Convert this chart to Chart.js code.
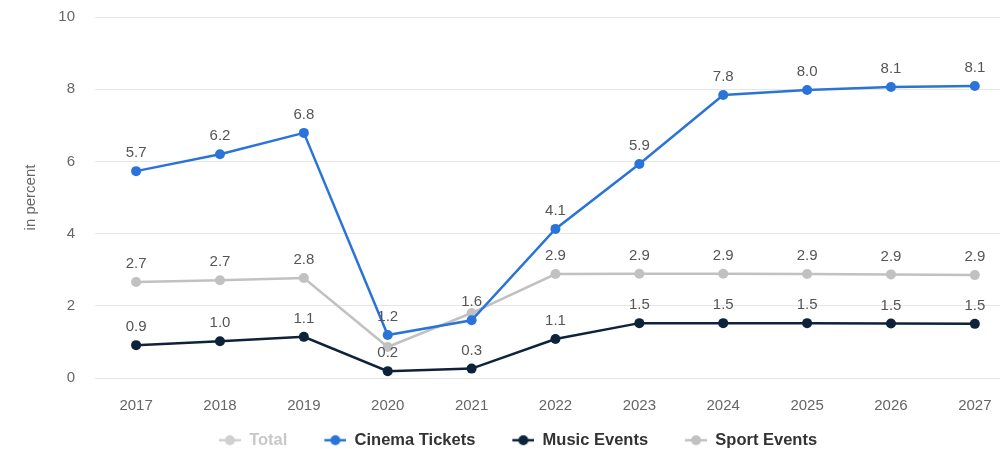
<!DOCTYPE html>
<html>
<head>
<meta charset="utf-8">
<script src="https://cdn.jsdelivr.net/npm/chart.js@4.4.1/dist/chart.umd.min.js"></script>
<style>
  html, body { margin: 0; padding: 0; background: #fff; }
  #wrap { width: 1000px; height: 449px; position: relative; }
</style>
</head>
<body>
<div id="wrap"><canvas id="chart"></canvas></div>
<script>
// Années et valeurs (en %)
const years = [2017, 2018, 2019, 2020, 2021, 2022, 2023, 2024, 2025, 2026, 2027];
const cinemaTickets = [5.73, 6.2, 6.79, 1.19, 1.6, 4.13, 5.93, 7.84, 7.98, 8.06, 8.09];
const musicEvents = [0.91, 1.02, 1.14, 0.19, 0.26, 1.08, 1.52, 1.52, 1.52, 1.51, 1.5];
const sportEvents = [2.66, 2.71, 2.77, 0.86, 1.8, 2.88, 2.89, 2.89, 2.88, 2.87, 2.85];
const totalValues = []; // série masquée (grisée dans la légende)
const yTicks = [0, 2, 4, 6, 8, 10];
// étiquettes masquées (chevauchement) : indices par série
const hiddenLabels = { 'Sport Events': [3, 4] };

const BLUE = '#2a74d9';
const NAVY = '#0e2239';
const GREY = '#c1c1c1';
const FONT = '"Liberation Sans", Arial, sans-serif';
const LEGEND_H = 18;

const toPoints = (vals) => vals.map((v, i) => ({ x: years[i], y: v }));

// marqueur de légende : trait + rond, calé à droite (la marge gauche sert d'espacement)
const MARK_W = 58;
function legendMarker(color) {
  const c = document.createElement('canvas');
  c.width = MARK_W; c.height = 12;
  const g = c.getContext('2d');
  g.strokeStyle = color;
  g.lineWidth = 2.5;
  g.beginPath(); g.moveTo(MARK_W - 22, 6); g.lineTo(MARK_W, 6); g.stroke();
  g.fillStyle = color;
  g.beginPath(); g.arc(MARK_W - 11, 6, 5, 0, Math.PI * 2); g.fill();
  return c;
}

// hauteur de légende fixe (colle la légende au bas du canvas)
const compactLegend = {
  id: 'compactLegend',
  beforeUpdate(chart) {
    const lg = chart.legend;
    if (!lg || lg._compact) return;
    const fit = lg.fit.bind(lg);
    lg.fit = function () { fit(); this.height = LEGEND_H; };
    lg._compact = true;
  },
};

// étiquettes de valeur au-dessus des points
const valueLabels = {
  id: 'valueLabels',
  afterDatasetsDraw(chart) {
    const ctx = chart.ctx;
    ctx.save();
    ctx.font = '15px ' + FONT;
    ctx.fillStyle = '#555';
    ctx.textAlign = 'center';
    ctx.textBaseline = 'middle';
    chart.data.datasets.forEach((ds, di) => {
      if (!chart.isDatasetVisible(di)) return;
      const meta = chart.getDatasetMeta(di);
      const skip = hiddenLabels[ds.label] || [];
      meta.data.forEach((pt, i) => {
        if (skip.includes(i)) return;
        ctx.fillText(ds.data[i].y.toFixed(1), pt.x, pt.y - 18);
      });
    });
    ctx.restore();
  },
};

const lineStyle = (color) => ({
  borderColor: color,
  backgroundColor: color,
  borderWidth: 2.5,
  pointRadius: 5,
  pointHoverRadius: 5,
  pointBorderWidth: 0,
  tension: 0,
});

new Chart(document.getElementById('chart'), {
  type: 'line',
  data: {
    datasets: [
      { label: 'Total', data: toPoints(totalValues), hidden: true, ...lineStyle(GREY) },
      { label: 'Cinema Tickets', data: toPoints(cinemaTickets), ...lineStyle(BLUE) },
      { label: 'Music Events', data: toPoints(musicEvents), ...lineStyle(NAVY) },
      { label: 'Sport Events', data: toPoints(sportEvents), ...lineStyle(GREY) },
    ],
  },
  plugins: [compactLegend, valueLabels],
  options: {
    responsive: true,
    maintainAspectRatio: false,
    animation: false,
    layout: { autoPadding: false, padding: { top: 17, right: 0, left: 0, bottom: 0 } },
    plugins: {
      tooltip: { enabled: false },
      legend: {
        position: 'bottom',
        labels: {
          usePointStyle: true,
          pointStyleWidth: MARK_W,
          padding: 1,
          font: { family: FONT, size: 16.5, weight: 'bold' },
          generateLabels(chart) {
            return chart.data.datasets.map((ds, i) => {
              const hidden = !chart.isDatasetVisible(i);
              return {
                text: ds.label,
                fontColor: hidden ? '#c8c8c8' : '#333',
                fillStyle: ds.borderColor,
                strokeStyle: ds.borderColor,
                pointStyle: legendMarker(hidden ? '#d0d0d0' : ds.borderColor),
                hidden: false,
                datasetIndex: i,
              };
            });
          },
        },
      },
    },
    scales: {
      x: {
        type: 'linear',
        min: 2016.51,
        max: 2027.3,
        afterFit: (scale) => { scale.height = 53; scale.paddingLeft = 0; scale.paddingRight = 0; },
        grid: { display: false },
        border: { display: false },
        ticks: {
          stepSize: 1,
          includeBounds: false,
          padding: 11,
          color: '#666',
          font: { family: FONT, size: 15 },
          callback: (v) => String(v),
        },
      },
      y: {
        min: 0,
        max: 10,
        afterBuildTicks: (scale) => { scale.ticks = yTicks.map((v) => ({ value: v })); },
        afterFit: (scale) => { scale.width = 95; scale.paddingTop = 0; scale.paddingBottom = 0; },
        grid: { color: '#e6e6e6', drawTicks: false },
        border: { display: false },
        ticks: {
          padding: 20,
          color: '#666',
          font: { family: FONT, size: 15 },
        },
        title: {
          display: true,
          text: 'in percent',
          color: '#666',
          padding: { top: 22, bottom: 0 },
          font: { family: FONT, size: 15 },
        },
      },
    },
  },
});
</script>
</body>
</html>
